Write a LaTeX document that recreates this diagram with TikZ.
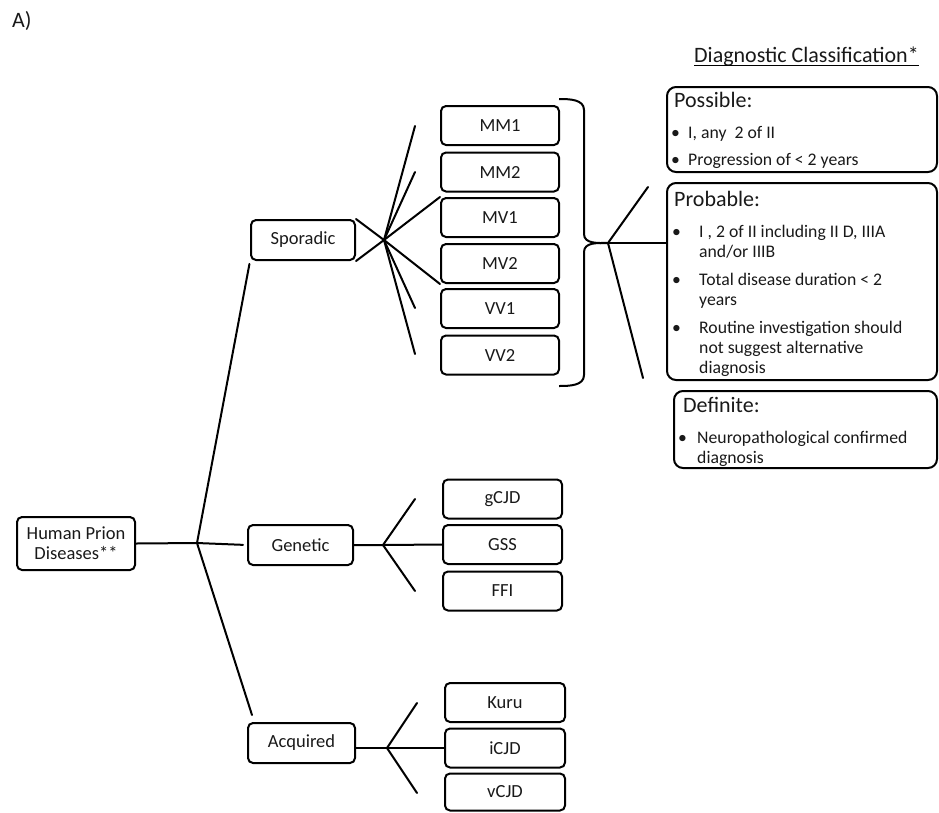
\documentclass[tikz,border=0pt]{standalone}
\usepackage{fontspec}
\setmainfont{Carlito}
\begin{document}
\begin{tikzpicture}[x=1pt,y=-1pt,
  ln/.style={line width=2pt, line cap=round},
  box/.style={draw, rounded corners=5pt, line width=2pt, inner sep=0pt,
     font=\fontsize{18.5}{20}\selectfont, text=black!90},
  sbox/.style={box, minimum width=118pt, minimum height=39pt},
  cbox/.style={draw, rounded corners=9pt, line width=2pt, inner sep=0pt},
  txt/.style={anchor=base west, inner sep=0pt, font=\fontsize{17.7}{20}\selectfont, text=black!90},
  hdr/.style={anchor=base west, inner sep=0pt, font=\fontsize{22}{24}\selectfont, text=black!90}
]
\useasboundingbox (0,0) rectangle (939,812);

% label
\node[hdr] (lab) at (12,27) {A)};

% main boxes
\node[box, minimum width=118pt, minimum height=53pt, align=center] (hpd) at (76,543.5) {Human Prion\\Diseases**};
\node[box, minimum width=104pt, minimum height=40pt] (sp) at (303,240) {Sporadic};
\node[box, minimum width=105pt, minimum height=40pt] (gen) at (300.5,545) {Genetic};
\node[box, minimum width=107pt, minimum height=40pt] (acq) at (301.5,743) {Acquired};

% sporadic subtypes
\node[sbox] (mm1) at (500,125.5) {MM1};
\node[sbox] (mm2) at (500,172) {MM2};
\node[sbox] (mv1) at (500,217.5) {MV1};
\node[sbox] (mv2) at (500,263.5) {MV2};
\node[sbox] (vv1) at (500,308.5) {VV1};
\node[sbox] (vv2) at (500,355) {VV2};

% genetic subtypes
\node[sbox, minimum width=119pt] (gcjd) at (502.5,499) {gCJD};
\node[sbox, minimum width=119pt] (gss) at (502.5,544.5) {GSS};
\node[sbox, minimum width=119pt] (ffi) at (502.5,591) {FFI};

% acquired subtypes
\node[sbox, minimum width=120pt] (kuru) at (505,702.5) {Kuru};
\node[sbox, minimum width=120pt] (icjd) at (505,748) {iCJD};
\node[sbox, minimum width=120pt, minimum height=37pt] (vcjd) at (505,792) {vCJD};

% root fan
\coordinate (rj) at (197,543);
\coordinate (acqend) at (252,715);
\draw[ln] (hpd.east) -- (rj);
\draw[ln, shorten >=4pt] (rj) -- (gen.west);
\draw[ln, shorten >=3pt] (rj) -- (sp.south west);
\draw[ln] (rj) -- (acqend);

% sporadic fan
\coordinate (sj) at (384,240);
\coordinate (s1) at (415,126);
\coordinate (s2) at (415,172);
\coordinate (s5) at (415,308);
\coordinate (s6) at (415,354);
\draw[ln] (sp.north east) -- (sj) -- (sp.south east);
\draw[ln] (sj) -- (s1);
\draw[ln] (sj) -- (s2);
\draw[ln] (sj) -- (mv1.north west);
\draw[ln] (sj) -- (mv2.south west);
\draw[ln] (sj) -- (s5);
\draw[ln] (sj) -- (s6);

% genetic fan
\coordinate (gj) at (383,545);
\coordinate (g1) at (415,499);
\coordinate (g3) at (415,591);
\draw[ln] (gen.east) -- (gj) -- (gss.west);
\draw[ln] (g1) -- (gj) -- (g3);

% acquired fan
\coordinate (aj) at (387,748);
\coordinate (a1) at (417,703);
\coordinate (a3) at (417,793);
\draw[ln] (acq.east |- aj) -- (aj) -- (icjd.west);
\draw[ln] (a1) -- (aj) -- (a3);

% brace
\coordinate (bt) at (608,243);
\draw[ln, line cap=butt] (559,99) to[out=0,in=90] (584,110) -- (584,234)
   to[out=-90,in=180] (bt);
\draw[ln, line cap=butt] (bt) to[out=180,in=90] (584,252) -- (584,375)
   to[out=-90,in=0] (559,386);

% title
\node[hdr] (dc) at (694,62) {Diagnostic Classification*};
\draw[line width=1.4pt] ([yshift=-3.5pt]dc.base west) -- ([yshift=-3.5pt]dc.base east);

% classification boxes
\node[cbox, minimum width=270pt, minimum height=85pt] (pos) at (802,129.5) {};
\node[cbox, minimum width=270pt, minimum height=197pt] (prob) at (802,281.5) {};
\node[cbox, minimum width=263pt, minimum height=77pt] (def) at (805.5,429.5) {};

% brace fan
\coordinate (b1) at (648,187);
\coordinate (b3) at (643,378);
\draw[ln] (bt) -- (prob.west |- bt);
\draw[ln] (b1) -- (bt) -- (b3);

% Possible
\node[hdr] (posh) at (674,107) {Possible:};
\node[txt] (posb1) at (671,138) {•};
\node[txt] (post1) at (688,138) {I, any\ \ 2 of II};
\node[txt] (posb2) at (671,165) {•};
\node[txt] (post2) at (688,165) {Progression of < 2 years};

% Probable
\node[hdr] (probh) at (674,206) {Probable:};
\node[txt] (prb1) at (672,237) {•};
\node[txt] (prt1a) at (699,237) {I , 2 of II including II D, IIIA};
\node[txt] (prt1b) at (699,257) {and/or IIIB};
\node[txt] (prb2) at (672,285) {•};
\node[txt] (prt2a) at (699,285) {Total disease duration < 2};
\node[txt] (prt2b) at (699,305) {years};
\node[txt] (prb3) at (672,333) {•};
\node[txt] (prt3a) at (699,333) {Routine investigation should};
\node[txt] (prt3b) at (699,353) {not suggest alternative};
\node[txt] (prt3c) at (699,373) {diagnosis};

% Definite
\node[hdr] (defh) at (683,412) {Definite:};
\node[txt] (dfb1) at (678,443) {•};
\node[txt] (dft1a) at (697,443) {Neuropathological confirmed};
\node[txt] (dft1b) at (697,463) {diagnosis};
\end{tikzpicture}
\end{document}
